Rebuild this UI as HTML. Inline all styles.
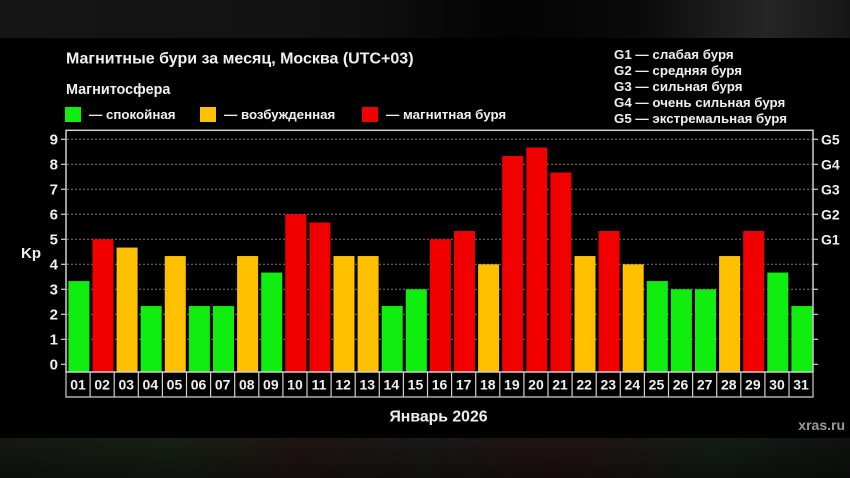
<!DOCTYPE html>
<html><head><meta charset="utf-8">
<style>
html,body{margin:0;padding:0;background:#000;}
body{width:850px;height:478px;overflow:hidden;position:relative;}
svg{display:block;}
text{font-family:"Liberation Sans","DejaVu Sans",sans-serif;font-weight:bold;fill:#f0f0f0;}
</style></head>
<body>
<svg width="850" height="478" viewBox="0 0 850 478" xmlns="http://www.w3.org/2000/svg">
<defs>
<linearGradient id="topg" x1="0" x2="1" y1="0" y2="0">
<stop offset="0" stop-color="#161616"/>
<stop offset="0.4" stop-color="#111"/>
<stop offset="0.6" stop-color="#030303"/>
<stop offset="0.75" stop-color="#0a0a0a"/>
<stop offset="0.9" stop-color="#262626"/>
<stop offset="1" stop-color="#161616"/>
</linearGradient>
<linearGradient id="botg" x1="0" x2="1" y1="0" y2="0">
<stop offset="0" stop-color="#151813"/>
<stop offset="0.2" stop-color="#172015"/>
<stop offset="0.35" stop-color="#201513"/>
<stop offset="0.5" stop-color="#191917"/>
<stop offset="0.65" stop-color="#221313"/>
<stop offset="0.85" stop-color="#141d15"/>
<stop offset="1" stop-color="#101210"/>
</linearGradient>
<linearGradient id="botv" x1="0" x2="0" y1="0" y2="1">
<stop offset="0" stop-color="#000" stop-opacity="0"/>
<stop offset="1" stop-color="#000" stop-opacity="0.4"/>
</linearGradient>
</defs>
<rect x="0" y="0" width="850" height="478" fill="#000"/>
<rect x="0" y="0" width="850" height="38" fill="url(#topg)"/>
<rect x="0" y="438" width="850" height="40" fill="url(#botg)"/>
<rect x="0" y="438" width="850" height="40" fill="url(#botv)"/>

<!-- Title & legends -->
<text x="66" y="63.5" font-size="16">Магнитные бури за месяц, Москва (UTC+03)</text>
<text x="66" y="94" font-size="14.4">Магнитосфера</text>
<rect x="65" y="107" width="16" height="15" fill="#10ee10"/>
<text x="89" y="119" font-size="13.3">— спокойная</text>
<rect x="200" y="107" width="16" height="15" fill="#ffc000"/>
<text x="224" y="119" font-size="13.3">— возбужденная</text>
<rect x="362" y="107" width="16" height="15" fill="#f20000"/>
<text x="386" y="119" font-size="13.3">— магнитная буря</text>

<text x="614" y="59" font-size="13.3">G1 — слабая буря</text>
<text x="614" y="75" font-size="13.3">G2 — средняя буря</text>
<text x="614" y="91" font-size="13.3">G3 — сильная буря</text>
<text x="614" y="107" font-size="13.3">G4 — очень сильная буря</text>
<text x="614" y="123" font-size="13.3">G5 — экстремальная буря</text>

<!-- grid -->
<g stroke="#7a7a7a" stroke-width="1" stroke-dasharray="2,2">
<line x1="67" x2="812" y1="139.3" y2="139.3"/>
<line x1="67" x2="812" y1="164.3" y2="164.3"/>
<line x1="67" x2="812" y1="189.3" y2="189.3"/>
<line x1="67" x2="812" y1="214.3" y2="214.3"/>
<line x1="67" x2="812" y1="239.3" y2="239.3"/>
<line x1="67" x2="812" y1="264.3" y2="264.3"/>
<line x1="67" x2="812" y1="289.3" y2="289.3"/>
<line x1="67" x2="812" y1="314.3" y2="314.3"/>
<line x1="67" x2="812" y1="339.3" y2="339.3"/>
</g>

<!-- bars -->
<g id="bars">
</g>
<script>
(function(){
var vals=[3.33,5,4.67,2.33,4.33,2.33,2.33,4.33,3.67,6,5.67,4.33,4.33,2.33,3,5,5.33,4,8.33,8.67,7.67,4.33,5.33,4,3.33,3,3,4.33,5.33,3.67,2.33];
var cols="GROGOGGOGRROOGGRRORRRORO GGGORGG".replace(/ /g,"");
var cmap={G:"#10ee10",O:"#ffc000",R:"#f20000"};
var ns="http://www.w3.org/2000/svg";
var g=document.getElementById("bars");
for(var i=0;i<31;i++){
 var x=66+i*24.1+2.4;
 var top=364.3-vals[i]*25;
 var r=document.createElementNS(ns,"rect");
 r.setAttribute("x",x.toFixed(2));r.setAttribute("y",top.toFixed(2));
 r.setAttribute("width","21");r.setAttribute("height",(372-top).toFixed(2));
 r.setAttribute("fill",cmap[cols[i]]);
 g.appendChild(r);
}
})();
</script>

<!-- frame -->
<rect x="66" y="130.3" width="747" height="241.7" fill="none" stroke="#cfcfcf" stroke-width="1.5"/>

<!-- ticks -->
<g stroke="#cfcfcf" stroke-width="1.2">
<line x1="61" x2="66" y1="139.3" y2="139.3"/><line x1="61" x2="66" y1="164.3" y2="164.3"/>
<line x1="61" x2="66" y1="189.3" y2="189.3"/><line x1="61" x2="66" y1="214.3" y2="214.3"/>
<line x1="61" x2="66" y1="239.3" y2="239.3"/><line x1="61" x2="66" y1="264.3" y2="264.3"/>
<line x1="61" x2="66" y1="289.3" y2="289.3"/><line x1="61" x2="66" y1="314.3" y2="314.3"/>
<line x1="61" x2="66" y1="339.3" y2="339.3"/><line x1="61" x2="66" y1="364.3" y2="364.3"/>
<line x1="813" x2="818" y1="139.3" y2="139.3"/><line x1="813" x2="818" y1="164.3" y2="164.3"/>
<line x1="813" x2="818" y1="189.3" y2="189.3"/><line x1="813" x2="818" y1="214.3" y2="214.3"/>
<line x1="813" x2="818" y1="239.3" y2="239.3"/><line x1="813" x2="818" y1="264.3" y2="264.3"/>
<line x1="813" x2="818" y1="289.3" y2="289.3"/><line x1="813" x2="818" y1="314.3" y2="314.3"/>
<line x1="813" x2="818" y1="339.3" y2="339.3"/><line x1="813" x2="818" y1="364.3" y2="364.3"/>
</g>
<g font-size="15" text-anchor="end">
<text x="58" y="144.5">9</text><text x="58" y="169.5">8</text><text x="58" y="194.5">7</text>
<text x="58" y="219.5">6</text><text x="58" y="244.5">5</text><text x="58" y="269.5">4</text>
<text x="58" y="294.5">3</text><text x="58" y="319.5">2</text><text x="58" y="344.5">1</text>
<text x="58" y="369.5">0</text>
</g>
<text x="21" y="258" font-size="15">Kp</text>
<g font-size="14">
<text x="821" y="144.5">G5</text><text x="821" y="169.5">G4</text><text x="821" y="194.5">G3</text>
<text x="821" y="219.5">G2</text><text x="821" y="244.5">G1</text>
</g>

<!-- category boxes -->
<g id="cats"></g>
<script>
(function(){
var ns="http://www.w3.org/2000/svg";
var g=document.getElementById("cats");
var p=document.createElementNS(ns,"path");
var d="M66 372 V397 H813 V372";
for(var i=1;i<31;i++){var x=(66+i*24.1).toFixed(2);d+=" M"+x+" 372 V397";}
p.setAttribute("d",d);p.setAttribute("fill","none");p.setAttribute("stroke","#cfcfcf");p.setAttribute("stroke-width","1.2");
g.appendChild(p);
for(var i=0;i<31;i++){
 var t=document.createElementNS(ns,"text");
 t.setAttribute("x",(66+i*24.1+12.05).toFixed(2));
 t.setAttribute("y","389.5");
 t.setAttribute("text-anchor","middle");
 t.setAttribute("font-size","14");
 var n=i+1; t.textContent=(n<10?"0":"")+n;
 g.appendChild(t);
}
})();
</script>

<text x="438.5" y="421.5" font-size="15.8" text-anchor="middle">Январь 2026</text>
<text x="845" y="430" font-size="14" text-anchor="end" style="fill:#9a9a9a">xras.ru</text>
</svg>
</body></html>
